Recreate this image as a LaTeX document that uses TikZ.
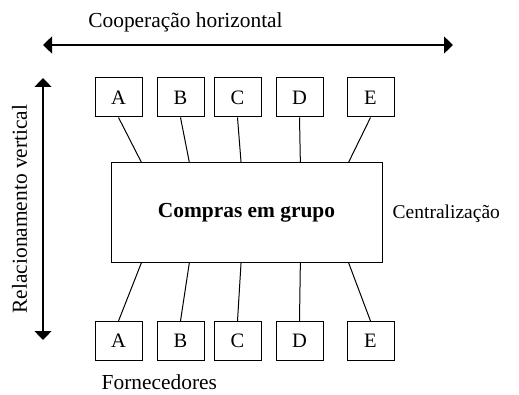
\documentclass[tikz,border=0pt]{standalone}
\usepackage{fontspec}
\setmainfont{Liberation Serif}
\usetikzlibrary{arrows.meta,calc}

\def\fs{\fontsize{19.5}{22}\selectfont}
\def\fb{\fontsize{21.4}{24}\selectfont}

\tikzset{
  letterbox/.style={draw,line width=1pt,minimum width=47pt,minimum height=39pt,inner sep=0pt,font=\fontsize{20.5}{23}\selectfont},
  axis/.style={{Triangle[width=17pt,length=9pt]}-{Triangle[width=17pt,length=9pt]},line width=1.3pt},
  link/.style={line width=1pt},
}

\begin{document}
\begin{tikzpicture}[x=1pt,y=1pt,font=\fb]
\useasboundingbox (0,0) rectangle (519,394);

% axes
\coordinate (hl) at (43,349);
\coordinate (hr) at (453,349);
\draw[axis] (hl) -- (hr);
\node[anchor=base] (coop) at (185.5,366) {Cooperação horizontal};

\coordinate (vt) at (43,316);
\coordinate (vb) at (43,54);
\draw[axis] (vt) -- (vb);
\node[rotate=90,anchor=base] (rel) at (27,185) {Relacionamento vertical};

% central box
\node[draw,line width=1pt,minimum width=271pt,minimum height=99pt,inner sep=0pt,
	font=\fb\bfseries] (main) at (246.5,181.5) {Compras em grupo};
\node[anchor=base west,inner sep=0pt,font=\fs] (centr) at (392.5,175.7) {Centralização};
\node[anchor=base west,inner sep=0pt] (forn) at (101.5,4.8) {Fornecedores};

% suppliers above and below
\foreach \n/\x/\f in {A/118.5/0.114,B/180.5/0.29,C/237.5/0.48,D/299.5/0.698,E/370.5/0.875}{
	\node[letterbox] (up\n) at (\x,296.5) {\n};
	\node[letterbox] (dn\n) at (\x,53) {\n};
	\coordinate (mt\n) at ($(main.north west)!\f!(main.north east)$);
	\coordinate (mb\n) at ($(main.south west)!\f!(main.south east)$);
	\draw[link] (up\n.south) -- (mt\n);
	\draw[link] (mb\n) -- (dn\n.north);
}
\end{tikzpicture}
\end{document}
